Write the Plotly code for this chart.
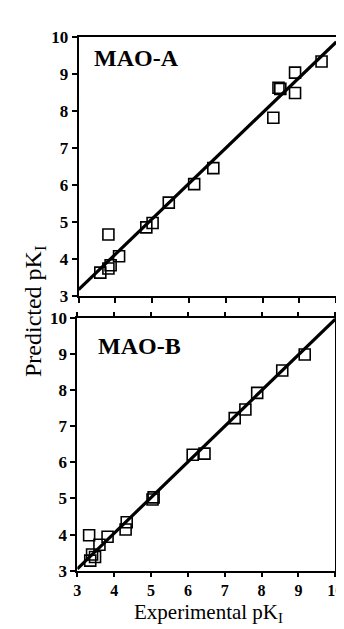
import plotly.graph_objects as go

# MAO-A data (experimental, predicted)
mao_a_exp = [3.59, 3.81, 3.87, 4.10, 3.81, 4.84, 5.01, 5.45, 6.14, 6.66, 8.29, 8.43, 8.48, 8.88, 8.88, 9.60]
mao_a_pred = [3.64, 3.75, 3.84, 4.08, 4.67, 4.86, 4.98, 5.53, 6.03, 6.46, 7.82, 8.63, 8.60, 9.04, 8.49, 9.34]
mao_a_fit_x = [3.0, 10.0]
mao_a_fit_y = [3.18, 9.87]

# MAO-B data
mao_b_exp = [3.32, 3.35, 3.40, 3.48, 3.60, 3.82, 4.31, 4.34, 5.04, 5.07, 6.13, 6.45, 7.27, 7.56, 7.88, 8.56, 9.17]
mao_b_pred = [3.98, 3.28, 3.45, 3.38, 3.72, 3.94, 4.14, 4.34, 4.97, 5.03, 6.21, 6.24, 7.22, 7.46, 7.92, 8.54, 8.98]
mao_b_fit_x = [3.0, 10.0]
mao_b_fit_y = [3.05, 9.96]

tick_vals = [3, 4, 5, 6, 7, 8, 9, 10]
tick_text = ["3", "4", "5", "6", "7", "8", "9", "10"]

W, H = 344, 629

def px_x(p):
    return p / W

def px_y(p):
    return 1 - p / H

fig = go.Figure()

marker = dict(symbol="square-open", size=11, color="black", line=dict(width=1.6, color="black"))
line = dict(color="black", width=3.2)

fig.add_trace(go.Scatter(x=mao_a_fit_x, y=mao_a_fit_y, mode="lines", line=line, xaxis="x", yaxis="y", showlegend=False))
fig.add_trace(go.Scatter(x=mao_a_exp, y=mao_a_pred, mode="markers", marker=marker, xaxis="x", yaxis="y", showlegend=False))
fig.add_trace(go.Scatter(x=mao_b_fit_x, y=mao_b_fit_y, mode="lines", line=line, xaxis="x2", yaxis="y2", showlegend=False))
fig.add_trace(go.Scatter(x=mao_b_exp, y=mao_b_pred, mode="markers", marker=marker, xaxis="x2", yaxis="y2", showlegend=False))

def common(size=17, ticklen=5):
    return dict(range=[3, 10], tickmode="array", tickvals=tick_vals, ticktext=tick_text,
                showgrid=False, zeroline=False, showline=True, linecolor="black", linewidth=2,
                ticks="outside", ticklen=ticklen, tickwidth=1.5, tickcolor="black",
                tickfont=dict(family="Liberation Serif", size=size, color="#000000", weight="bold"))

fig.update_layout(
    width=W, height=H,
    margin=dict(l=0, r=0, t=0, b=0),
    paper_bgcolor="white", plot_bgcolor="white",
    xaxis=dict(domain=[px_x(69), px_x(336)], anchor="y", mirror=True, showticklabels=False, **common()),
    yaxis=dict(domain=[px_y(288), px_y(20.7)], anchor="x", mirror=True, **common()),
    xaxis2=dict(domain=[px_x(67.7), px_x(335)], anchor="y2", mirror="ticks", **common(16, 4)),
    yaxis2=dict(domain=[px_y(571), px_y(310)], anchor="x2", mirror=True, **common()),
)

fig.add_annotation(text="<b>MAO-A</b>", x=3.37, y=9.43, xref="x", yref="y", xanchor="left", yanchor="middle",
                   showarrow=False, font=dict(family="Liberation Serif", size=24, color="#000000"))
fig.add_annotation(text="<b>MAO-B</b>", x=3.5, y=9.21, xref="x2", yref="y2", xanchor="left", yanchor="middle",
                   showarrow=False, font=dict(family="Liberation Serif", size=24, color="#000000"))
fig.add_annotation(text="Predicted pK<sub>I</sub>", x=px_x(24), y=px_y(303), xref="paper", yref="paper",
                   textangle=-90, showarrow=False, xanchor="center", yanchor="middle",
                   font=dict(family="Liberation Serif", size=24, color="#000000"))
fig.add_annotation(text="Experimental pK<sub>I</sub>", x=px_x(204), y=px_y(629), xref="paper", yref="paper",
                   showarrow=False, xanchor="center", yanchor="bottom", borderpad=0,
                   font=dict(family="Liberation Serif", size=21, color="#000000"))

fig.write_html("out.html")
